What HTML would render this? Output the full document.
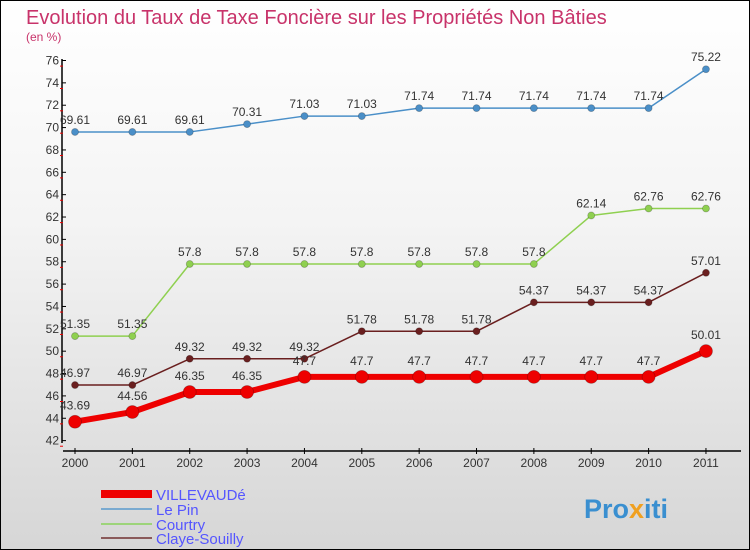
<!DOCTYPE html>
<html><head><meta charset="utf-8"><style>
body{margin:0}
#c{width:748px;height:548px;border:1px solid #000;background:linear-gradient(#fff 0%,#f4f4f4 40%,#d6d6d6 100%);position:relative;font-family:"Liberation Sans",sans-serif;overflow:hidden}
text{font-family:"Liberation Sans",sans-serif}
</style></head><body>
<div id="c">
<svg id="s" width="748" height="548" xmlns="http://www.w3.org/2000/svg">
<text x="25" y="23" font-size="20" fill="#c8336a">Evolution du Taux de Taxe Foncière sur les Propriétés Non Bâties</text>
<text x="25" y="40" font-size="12" fill="#c8336a">(en %)</text>
<g id="legend">
<rect x="100" y="489" width="51" height="8" fill="#e00"/>
<text x="155" y="499" font-size="15" fill="#5555ff">VILLEVAUDé</text>
<rect x="100" y="507" width="51" height="2" fill="#7aaad0"/>
<text x="155" y="514" font-size="15" fill="#5555ff">Le Pin</text>
<rect x="100" y="522" width="51" height="2" fill="#9dd47a"/>
<text x="155" y="529" font-size="15" fill="#5555ff">Courtry</text>
<rect x="100" y="536" width="51" height="2" fill="#8a5a5a"/>
<text x="155" y="543" font-size="15" fill="#5555ff">Claye-Souilly</text>
</g>
<text x="583" y="517" font-size="27" font-weight="bold" fill="#3a8fd0">Pro<tspan fill="#f0a020">x</tspan>iti</text>
</svg>
</div>
<script>
const years=["2000","2001","2002","2003","2004","2005","2006","2007","2008","2009","2010","2011"];
const yTicks=[42,44,46,48,50,52,54,56,58,60,62,64,66,68,70,72,74,76];
const villevaude=[43.69,44.56,46.35,46.35,47.7,47.7,47.7,47.7,47.7,47.7,47.7,50.01];
const lePin=[69.61,69.61,69.61,70.31,71.03,71.03,71.74,71.74,71.74,71.74,71.74,75.22];
const courtry=[51.35,51.35,57.8,57.8,57.8,57.8,57.8,57.8,57.8,62.14,62.76,62.76];
const claye=[46.97,46.97,49.32,49.32,49.32,51.78,51.78,51.78,54.37,54.37,54.37,57.01];
const NS="http://www.w3.org/2000/svg";
const s=document.getElementById('s');
const X=i=>74+i*57.36;
const Y=v=>59.5+(76-v)*11.18;
function mk(t,a,p){const e=document.createElementNS(NS,t);for(const k in a)e.setAttribute(k,a[k]);(p||s).appendChild(e);return e;}
let ya=mk('line',{x1:61,y1:58,x2:61,y2:442,stroke:'#000','stroke-width':1.5});


let xa=mk('line',{x1:62,y1:450,x2:740,y2:450,stroke:'#000','stroke-width':1.5});


yTicks.forEach(v=>{
 const y=Y(v);
 mk('line',{x1:61,y1:y,x2:65,y2:y,stroke:'#000'});
 mk('line',{x1:59,y1:y+5.6,x2:62,y2:y+5.6,stroke:'#e00'});
 const t=mk('text',{x:58,y:y+4,'font-size':12,fill:'#333','text-anchor':'end'});
 t.textContent=v;
 
 
});
years.forEach((yr,i)=>{
 mk('line',{x1:X(i),y1:447,x2:X(i),y2:453,stroke:'#000'});
 const t=mk('text',{x:X(i),y:466,'font-size':12,fill:'#333','text-anchor':'middle'});
 t.textContent=yr;
 
 
});
function series(data,color,w,r,name,labelDy){
 const g=mk('g',{});
 
 
 mk('polyline',{points:data.map((v,i)=>X(i)+','+Y(v)).join(' '),fill:'none',stroke:color,'stroke-width':w,'stroke-linejoin':'round'},g);
 data.forEach((v,i)=>{
  const c=mk('circle',{cx:X(i),cy:Y(v),r:r,fill:color,stroke:'rgba(0,0,0,0.25)','stroke-width':0.8},g);
  
  
  const t=mk('text',{x:X(i),y:Y(v)+labelDy,'font-size':12,fill:'#333','text-anchor':'middle'},g);
  t.textContent=String(v);
  
  
 });
}
series(lePin,'#4a8fc8',1.5,3.5,'series-le-pin',-8);
series(courtry,'#8fd050',1.5,3.5,'series-courtry',-8);
series(claye,'#6a1f1f',1.5,3.5,'series-claye-souilly',-8);
series(villevaude,'#ee0000',6,6.5,'series-villevaude',-12);
</script>
</body></html>
